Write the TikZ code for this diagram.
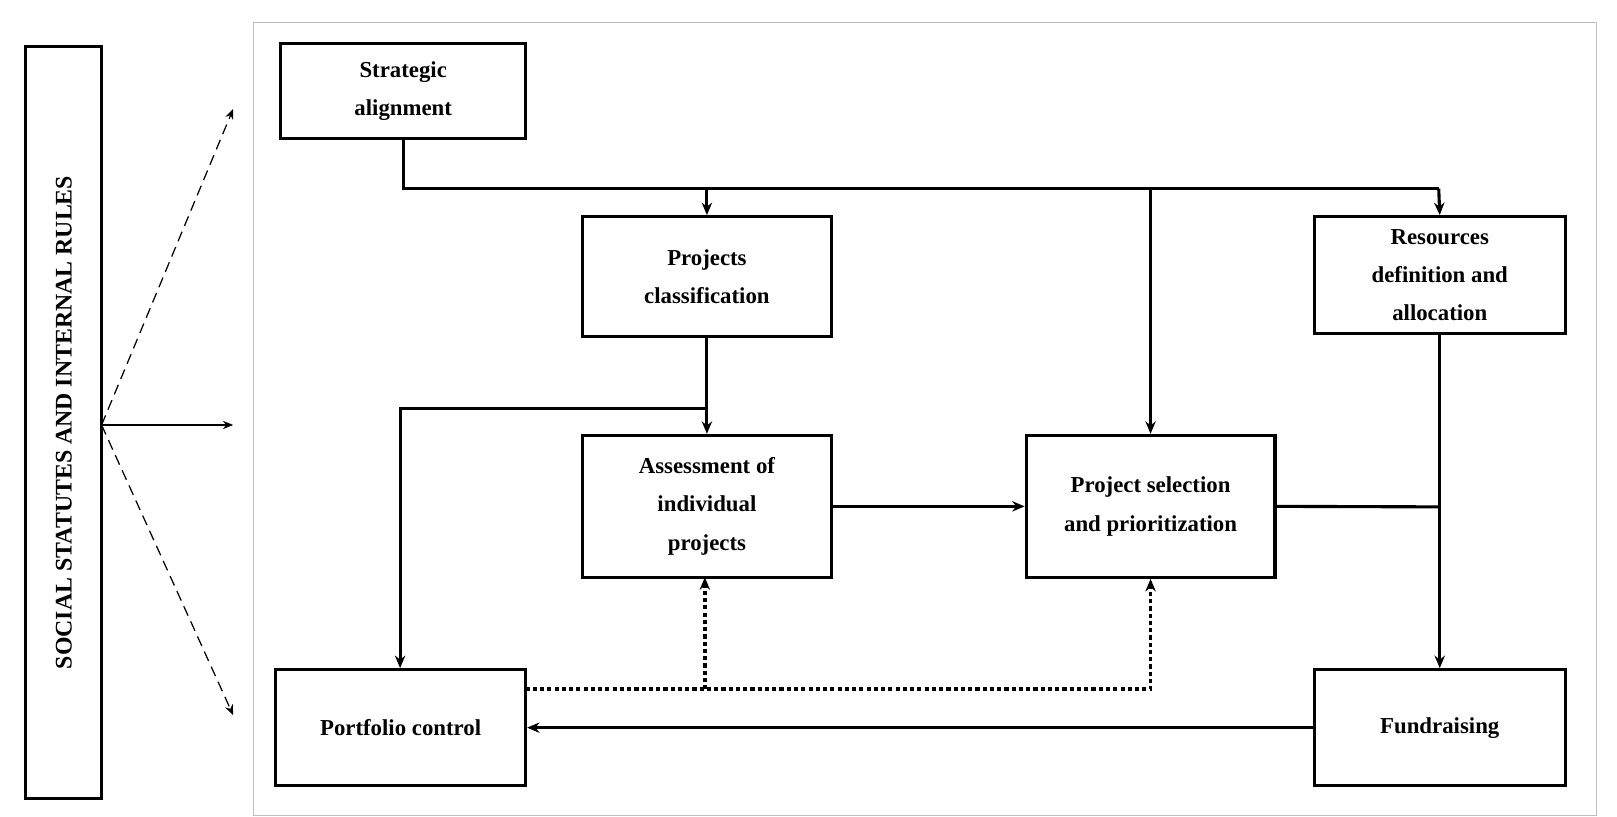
\documentclass[tikz,border=0pt]{standalone}
\usepackage{fontspec}
\setmainfont{Liberation Serif}
\usetikzlibrary{arrows.meta}
\begin{document}
\begin{tikzpicture}[x=1pt,y={(0,-1pt)},
 box/.style={draw,line width=3pt,font=\fontsize{22}{37}\selectfont\bfseries,align=center,inner sep=0},
 ln/.style={line width=3pt},
 ar/.style={line width=3pt,-{Stealth[length=12pt,width=10pt]}},
 dar/.style={line width=3.5pt,dash pattern=on 4pt off 3pt,-{Stealth[length=12pt,width=10pt]}}]
\useasboundingbox (0,0) rectangle (1560,788);
\draw[gray!50,line width=0.8pt] (244,22) rectangle (1540,787);
\node[draw,line width=3pt,minimum width=73pt,minimum height=725pt,inner sep=0] (bar) at (61.5,407.5) {};
\node[rotate=90,font=\fontsize{23}{26}\selectfont\bfseries] at (bar.center) {SOCIAL STATUTES AND INTERNAL RULES};
\node[box,minimum width=236pt,minimum height=92pt] (sa) at (389,88) {Strategic\\alignment};
\node[box,minimum width=240pt,minimum height=116pt] (pc) at (682,267) {Projects\\classification};
\node[box,minimum width=242pt,minimum height=113pt] (rd) at (1389,265.5) {Resources\\definition and\\allocation};
\node[box,minimum width=240pt,minimum height=137pt] (ai) at (682,488.5) {Assessment of\\individual\\projects};
\node[box,minimum width=240pt,minimum height=137pt] (ps) at (1110,488.5) {Project selection\\and prioritization};
\node[box,minimum width=241pt,minimum height=112pt] (pf) at (386.5,702) {Portfolio control};
\node[box,minimum width=242pt,minimum height=112pt] (fr) at (1389,702) {Fundraising};
\coordinate (h1) at (389,182);
\draw[ln] (sa.south) -- (h1) -- (1388,182);
\draw[ar] (682,182) -- (pc.north);
\draw[ar] (1388,182) -- (rd.north);
\draw[ar] (1110,182) -- (ps.north);
\draw[ar] (pc.south) -- (ai.north);
\draw[ar] (682,394) -- (386,394) -- (pf.north -| 386,0);
\draw[ar] (ai.east) -- (ps.east -| ps.west);
\draw[ln] (ps.east) -- (1388,489);
\draw[ar] (rd.south) -- (fr.north);
\draw[ar] (fr.west) -- (pf.east);
\draw[dar] (507,665) -- (1110,665) -- (ps.south);
\draw[dar] (680,665) -- (680,557);
\coordinate (o) at (98,410);
\draw[line width=1.2pt,-{Stealth[length=10pt,width=8pt]}] (o) -- (225,410);
\draw[line width=1.2pt,dash pattern=on 10pt off 6pt,-{Stealth[length=10pt,width=8pt]}] (o) -- (225,105);
\draw[line width=1.2pt,dash pattern=on 10pt off 6pt,-{Stealth[length=10pt,width=8pt]}] (o) -- (225,690);
\end{tikzpicture}
\end{document}
